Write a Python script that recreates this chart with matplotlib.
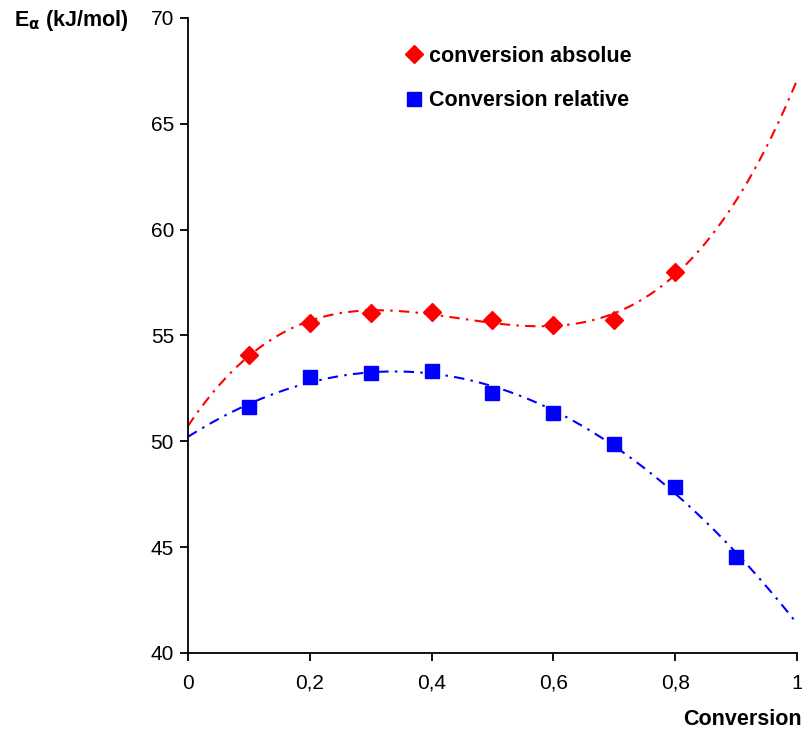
import numpy as np
import matplotlib
matplotlib.use("Agg")
import matplotlib.pyplot as plt

plt.rcParams['font.family'] = ['Liberation Sans', 'DejaVu Sans']
plt.rcParams['mathtext.default'] = 'bf'

# data
conv_abs_x = [0.1, 0.2, 0.3, 0.4, 0.5, 0.6, 0.7, 0.8]
conv_abs_E = [54.1, 55.6, 56.05, 56.1, 55.75, 55.5, 55.75, 58.0]
conv_rel_x = [0.1, 0.2, 0.3, 0.4, 0.5, 0.6, 0.7, 0.8, 0.9]
conv_rel_E = [51.6, 53.05, 53.25, 53.3, 52.3, 51.35, 49.85, 47.85, 44.55]

x_ticks = [0, 0.2, 0.4, 0.6, 0.8, 1]
x_tick_labels = ['0', '0,2', '0,4', '0,6', '0,8', '1']
y_ticks = [40, 45, 50, 55, 60, 65, 70]

fig = plt.figure(figsize=(8.03, 7.34), dpi=100)
ax = fig.add_axes([0.234, 0.1104, 0.7585, 0.8651])

# polynomial trend lines (like the spreadsheet trendline)
xs = np.linspace(0, 1, 200)
p_abs = np.polyfit(conv_abs_x, conv_abs_E, 3)
p_rel = np.polyfit(conv_rel_x, conv_rel_E, 3)
ax.plot(xs, np.polyval(p_abs, xs), color='#ff0000', lw=1.5,
        linestyle=(0, (5, 3, 1.2, 3)))
ax.plot(xs, np.polyval(p_rel, xs), color='#0000ff', lw=1.5,
        linestyle=(0, (5, 3, 1.2, 3)))

ax.plot(conv_abs_x, conv_abs_E, 'D', color='#ff0000', markersize=9,
        label='conversion absolue', linestyle='none')
ax.plot(conv_rel_x, conv_rel_E, 's', color='#0000ff', markersize=9.5,
        label='Conversion relative', linestyle='none')

ax.set_xlim(0, 1)
ax.set_ylim(40, 70)
ax.set_xticks(x_ticks)
ax.set_xticklabels(x_tick_labels)
ax.set_yticks(y_ticks)
ax.tick_params(labelsize=15, length=6, width=1.3, direction='out', pad=9)
ax.tick_params(axis='y', pad=4)
for s in ['top', 'right']:
    ax.spines[s].set_visible(False)
for s in ['left', 'bottom']:
    ax.spines[s].set_linewidth(1.3)

leg = ax.legend(loc='upper left', bbox_to_anchor=(0.318, 0.987), frameon=False,
                handletextpad=0.1, labelspacing=1.1, handlelength=1.2,
                prop={'weight': 'bold', 'size': 15.5})

fig.text(0.017, 0.972, r'E$_{\alpha}$ (kJ/mol)', fontsize=15.5, fontweight='bold',
         va='center', ha='left')
fig.text(0.999, 0.006, 'Conversion', fontsize=15.5, fontweight='bold',
         ha='right', va='bottom')

fig.savefig('out.png', dpi=100)
